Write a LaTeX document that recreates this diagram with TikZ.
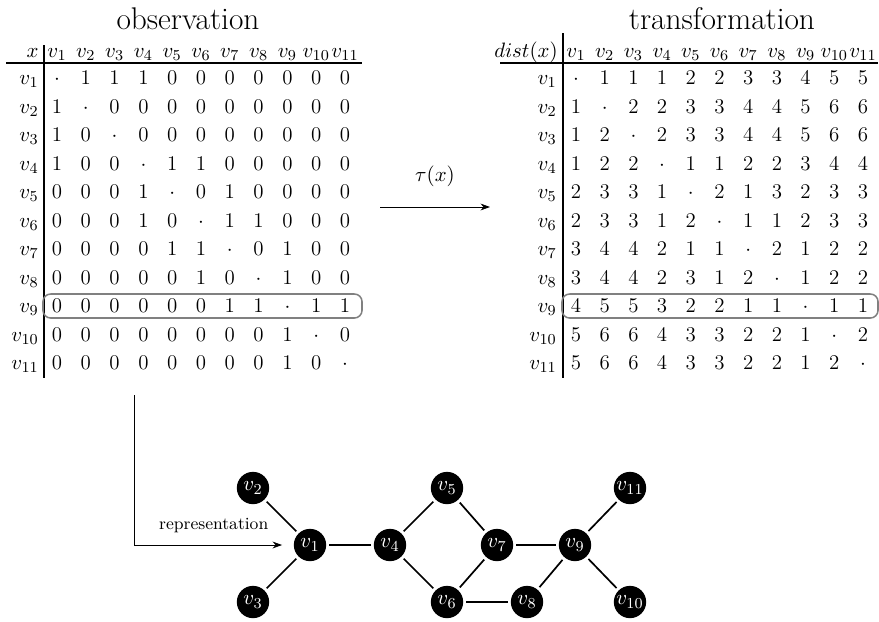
\documentclass[tikz,border=0pt]{standalone}
\usetikzlibrary{arrows.meta}

\begin{document}
\begin{tikzpicture}[x=0.526pt,y=-0.526pt,font=\fontsize{11}{13}\selectfont,
    title/.style={font=\fontsize{16.5}{19}\selectfont},
    cell/.style={anchor=base,inner sep=0pt},
    rowlabel/.style={anchor=base east,inner sep=0pt},
    tablerule/.style={line width=0.8pt},
    rowbox/.style={draw=gray,line width=0.8pt,rounded corners=4pt},
    vertex/.style={circle,fill=black,text=white,minimum size=17pt,inner sep=0pt},
    edge/.style={line width=0.9pt,shorten >=1.5pt,shorten <=1.5pt},
    >={Stealth[length=5pt,width=3.6pt]}]
  \useasboundingbox (0,0) rectangle (879,621);

  % observation
  \node[title] (obstitle) at (188,19) {observation};
  \node[rowlabel] (obs-x) at (39,57) {$x$};
  \foreach \c in {1,...,11}
    \node[cell] (obs-h-\c) at ({57+28.8*(\c-1)},57) {$v_{\c}$};
  \foreach \rowvals [count=\r] in {
      {$\cdot$,1,1,1,0,0,0,0,0,0,0},
      {1,$\cdot$,0,0,0,0,0,0,0,0,0},
      {1,0,$\cdot$,0,0,0,0,0,0,0,0},
      {1,0,0,$\cdot$,1,1,0,0,0,0,0},
      {0,0,0,1,$\cdot$,0,1,0,0,0,0},
      {0,0,0,1,0,$\cdot$,1,1,0,0,0},
      {0,0,0,0,1,1,$\cdot$,0,1,0,0},
      {0,0,0,0,0,1,0,$\cdot$,1,0,0},
      {0,0,0,0,0,0,1,1,$\cdot$,1,1},
      {0,0,0,0,0,0,0,0,1,$\cdot$,0},
      {0,0,0,0,0,0,0,0,1,0,$\cdot$}} {
    \node[rowlabel] (obs-\r-0) at (39,{84.5+28.5*(\r-1)}) {$v_{\r}$};
    \foreach \val [count=\c] in \rowvals
      \node[cell] (obs-\r-\c) at ({57+28.8*(\c-1)},{84.5+28.5*(\r-1)}) {\val};
  }
  \draw[tablerule] (6,63) -- (362,63);
  \draw[tablerule] (44,45) -- (44,378);
  \draw[rowbox] (43,294) rectangle (362,318);

  % transformation
  \node[title] (distitle) at (722,19) {transformation};
  \node[rowlabel] (dist-x) at (558,57) {$dist(x)$};
  \foreach \c in {1,...,11}
    \node[cell] (dist-h-\c) at ({576+28.7*(\c-1)},57) {$v_{\c}$};
  \foreach \rowvals [count=\r] in {
      {$\cdot$,1,1,1,2,2,3,3,4,5,5},
      {1,$\cdot$,2,2,3,3,4,4,5,6,6},
      {1,2,$\cdot$,2,3,3,4,4,5,6,6},
      {1,2,2,$\cdot$,1,1,2,2,3,4,4},
      {2,3,3,1,$\cdot$,2,1,3,2,3,3},
      {2,3,3,1,2,$\cdot$,1,1,2,3,3},
      {3,4,4,2,1,1,$\cdot$,2,1,2,2},
      {3,4,4,2,3,1,2,$\cdot$,1,2,2},
      {4,5,5,3,2,2,1,1,$\cdot$,1,1},
      {5,6,6,4,3,3,2,2,1,$\cdot$,2},
      {5,6,6,4,3,3,2,2,1,2,$\cdot$}} {
    \node[rowlabel] (dist-\r-0) at (557,{84.5+28.5*(\r-1)}) {$v_{\r}$};
    \foreach \val [count=\c] in \rowvals
      \node[cell] (dist-\r-\c) at ({576+28.7*(\c-1)},{84.5+28.5*(\r-1)}) {\val};
  }
  \draw[tablerule] (500,63) -- (878,63);
  \draw[tablerule] (563,33) -- (563,378);
  \draw[rowbox] (562,294) rectangle (878,318);

  \coordinate (tauA) at (380,207);
  \coordinate (tauB) at (490,207);
  \draw[->] (tauA) -- node[above=7pt] {$\tau(x)$} (tauB);

  % graph
  \node[vertex] (v1) at (310,545) {$v_1$};
  \node[vertex] (v2) at (253,488) {$v_2$};
  \node[vertex] (v3) at (253,602) {$v_3$};
  \node[vertex] (v4) at (390,545) {$v_4$};
  \node[vertex] (v5) at (447,488) {$v_5$};
  \node[vertex] (v6) at (447,602) {$v_6$};
  \node[vertex] (v7) at (497,545) {$v_7$};
  \node[vertex] (v8) at (527,602) {$v_8$};
  \node[vertex] (v9) at (575,545) {$v_9$};
  \node[vertex] (v10) at (630,602) {$v_{10}$};
  \node[vertex] (v11) at (630,488) {$v_{11}$};
  \foreach \a/\b in {v1/v2,v1/v3,v1/v4,v4/v5,v4/v6,v5/v7,v6/v7,v6/v8,v7/v9,v8/v9,v9/v10,v9/v11}
    \draw[edge] (\a) -- (\b);

  \coordinate (repstart) at (134,395);
  \draw[->,shorten >=6pt] (repstart) |- node[pos=0.75,above=3pt] {\small representation} (v1);
\end{tikzpicture}
\end{document}
